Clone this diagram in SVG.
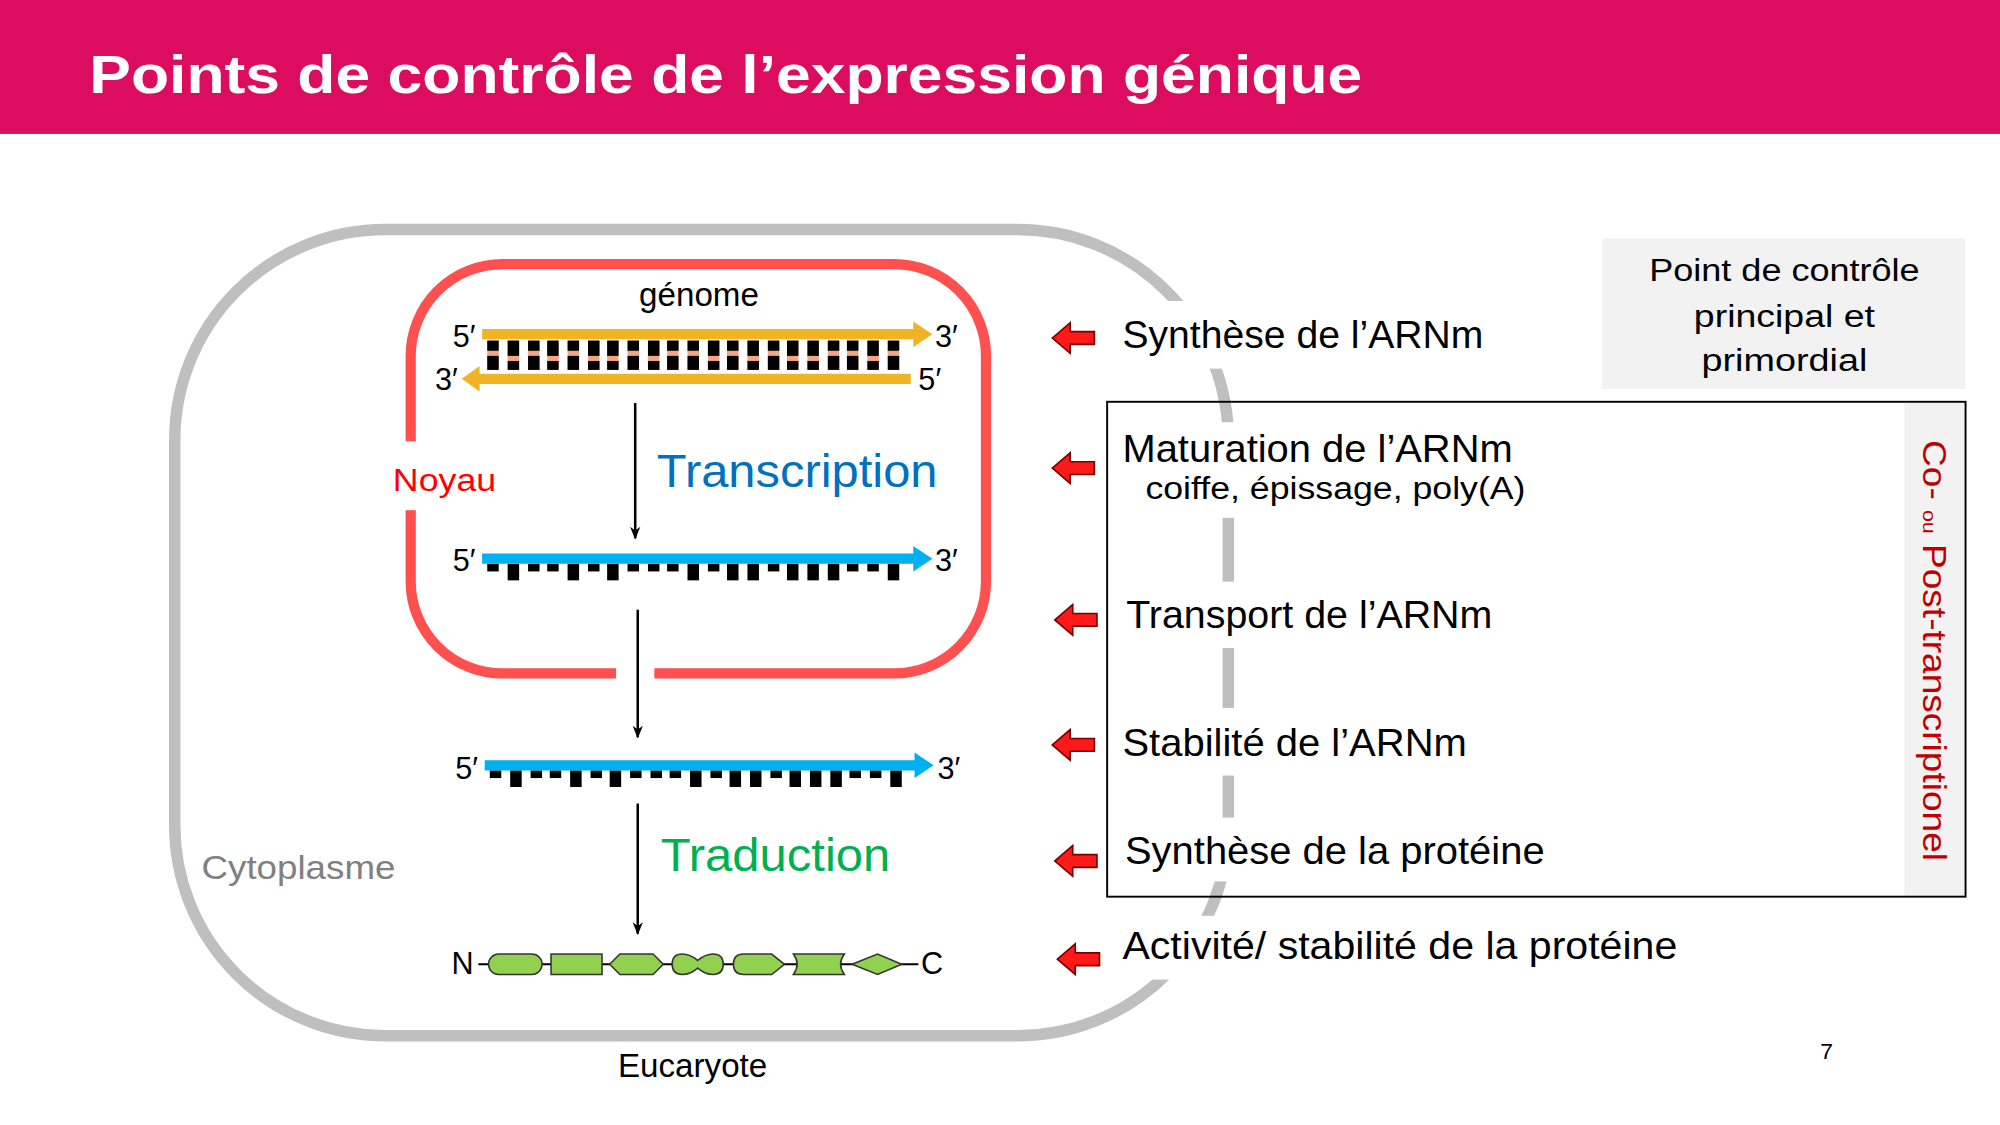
<svg xmlns="http://www.w3.org/2000/svg" width="2000" height="1125" viewBox="0 0 2000 1125">
<style>
.t{font-family:"Liberation Sans",Arial,sans-serif}
.lbl{font-family:"Liberation Sans",Arial,sans-serif;font-size:30px;fill:#000}
.pr{font-family:"Liberation Sans",Arial,sans-serif;font-size:25px;fill:#000}
.blk{fill:#000}
.pk{fill:#F4A582}
.prot{fill:#92D050;stroke:#333;stroke-width:1.2}
.ax{stroke:#000;stroke-width:2;fill:none}
.wb{fill:#fff}
</style>
<defs>
<marker id="ah" markerWidth="12" markerHeight="12" refX="9" refY="5" orient="auto" markerUnits="userSpaceOnUse"><path d="M0,1 L10,5 L0,9 L3,5 Z" fill="#000"/></marker>
<path id="ra" d="M0,0 L14,-12 L14,-5 L33,-5 L33,5 L14,5 L14,12 Z" fill="#FF1A1A" stroke="#7a0000" stroke-width="1.3"/>
</defs>
<rect width="2000" height="1125" fill="#fff"/>
<g transform="scale(1.27551)">
<rect x="0" y="0" width="1568" height="105" fill="#DC0C5F"/>
<text class="t" x="70" y="73" font-size="42" font-weight="bold" fill="#fff" textLength="998" lengthAdjust="spacingAndGlyphs">Points de contrôle de l’expression génique</text>

<g id="cytoplasme">
<rect x="137" y="180" width="826" height="632" rx="165" fill="none" stroke="#BFBFBF" stroke-width="9"/>
<text class="t" x="158" y="689" font-size="26" fill="#808080" textLength="152" lengthAdjust="spacingAndGlyphs">Cytoplasme</text>
<text class="t" x="543" y="844" font-size="26" fill="#000" text-anchor="middle">Eucaryote</text>
</g>

<g id="noyau">
<rect x="322" y="207" width="451" height="321" rx="72" fill="none" stroke="#FF5050" stroke-width="8"/>
<rect x="483" y="518" width="30" height="16" class="wb"/>
<rect x="300" y="346" width="92" height="54" class="wb"/>
<text class="t" x="308" y="385" font-size="25" fill="#FF0000" textLength="81" lengthAdjust="spacingAndGlyphs">Noyau</text>
<text class="t" x="548" y="240" font-size="26" fill="#000" text-anchor="middle">génome</text>
</g>

<g id="adn">
<g class="pk">
<rect x="382" y="267" width="9" height="23"/><rect x="398" y="267" width="9" height="23"/><rect x="414" y="267" width="9" height="23"/><rect x="429" y="267" width="9" height="23"/><rect x="445" y="267" width="9" height="23"/><rect x="461" y="267" width="9" height="23"/><rect x="476" y="267" width="9" height="23"/><rect x="492" y="267" width="9" height="23"/><rect x="508" y="267" width="9" height="23"/><rect x="523" y="267" width="9" height="23"/><rect x="539" y="267" width="9" height="23"/><rect x="555" y="267" width="9" height="23"/><rect x="570" y="267" width="9" height="23"/><rect x="586" y="267" width="9" height="23"/><rect x="602" y="267" width="9" height="23"/><rect x="617" y="267" width="9" height="23"/><rect x="633" y="267" width="9" height="23"/><rect x="649" y="267" width="9" height="23"/><rect x="664" y="267" width="9" height="23"/><rect x="680" y="267" width="9" height="23"/><rect x="696" y="267" width="9" height="23"/>
</g>
<g class="blk">
<rect x="382" y="267" width="9" height="8"/><rect x="382" y="279" width="9" height="11"/>
<rect x="398" y="267" width="9" height="12"/><rect x="398" y="283" width="9" height="7"/>
<rect x="414" y="267" width="9" height="8"/><rect x="414" y="279" width="9" height="11"/>
<rect x="429" y="267" width="9" height="12"/><rect x="429" y="283" width="9" height="7"/>
<rect x="445" y="267" width="9" height="8"/><rect x="445" y="279" width="9" height="11"/>
<rect x="461" y="267" width="9" height="12"/><rect x="461" y="283" width="9" height="7"/>
<rect x="476" y="267" width="9" height="12"/><rect x="476" y="283" width="9" height="7"/>
<rect x="492" y="267" width="9" height="8"/><rect x="492" y="279" width="9" height="11"/>
<rect x="508" y="267" width="9" height="12"/><rect x="508" y="283" width="9" height="7"/>
<rect x="523" y="267" width="9" height="8"/><rect x="523" y="279" width="9" height="11"/>
<rect x="539" y="267" width="9" height="8"/><rect x="539" y="279" width="9" height="11"/>
<rect x="555" y="267" width="9" height="12"/><rect x="555" y="283" width="9" height="7"/>
<rect x="570" y="267" width="9" height="8"/><rect x="570" y="279" width="9" height="11"/>
<rect x="586" y="267" width="9" height="12"/><rect x="586" y="283" width="9" height="7"/>
<rect x="602" y="267" width="9" height="8"/><rect x="602" y="279" width="9" height="11"/>
<rect x="617" y="267" width="9" height="12"/><rect x="617" y="283" width="9" height="7"/>
<rect x="633" y="267" width="9" height="12"/><rect x="633" y="283" width="9" height="7"/>
<rect x="649" y="267" width="9" height="8"/><rect x="649" y="279" width="9" height="11"/>
<rect x="664" y="267" width="9" height="8"/><rect x="664" y="279" width="9" height="11"/>
<rect x="680" y="267" width="9" height="12"/><rect x="680" y="283" width="9" height="7"/>
<rect x="696" y="267" width="9" height="8"/><rect x="696" y="279" width="9" height="11"/>
</g>
<path d="M378,258 L716,258 L716,252 L731,262 L716,272 L716,266 L378,266 Z" fill="#F0B323"/>
<path d="M714,293 L376,293 L376,287 L362,297 L376,307 L376,301 L714,301 Z" fill="#F0B323"/>
<text class="t" x="355" y="272" font-size="24">5′</text>
<text class="t" x="733" y="272" font-size="24">3′</text>
<text class="t" x="341" y="306" font-size="24">3′</text>
<text class="t" x="720" y="306" font-size="24">5′</text>
</g>

<g id="arnm1">
<g class="blk">
<rect x="382" y="442" width="9" height="6"/><rect x="398" y="442" width="9" height="13"/><rect x="414" y="442" width="9" height="6"/><rect x="429" y="442" width="9" height="6"/><rect x="445" y="442" width="9" height="13"/><rect x="461" y="442" width="9" height="6"/><rect x="476" y="442" width="9" height="13"/><rect x="492" y="442" width="9" height="6"/><rect x="508" y="442" width="9" height="6"/><rect x="523" y="442" width="9" height="6"/><rect x="539" y="442" width="9" height="13"/><rect x="555" y="442" width="9" height="6"/><rect x="570" y="442" width="9" height="13"/><rect x="586" y="442" width="9" height="13"/><rect x="602" y="442" width="9" height="6"/><rect x="617" y="442" width="9" height="13"/><rect x="633" y="442" width="9" height="13"/><rect x="649" y="442" width="9" height="13"/><rect x="664" y="442" width="9" height="6"/><rect x="680" y="442" width="9" height="6"/><rect x="696" y="442" width="9" height="13"/>
</g>
<path d="M378,434 L716,434 L716,428 L731,438 L716,448 L716,442 L378,442 Z" fill="#00B0F0"/>
<text class="t" x="355" y="448" font-size="24">5′</text>
<text class="t" x="733" y="448" font-size="24">3′</text>
</g>

<g id="arnm2">
<g class="blk">
<rect x="384" y="604" width="9" height="6"/><rect x="400" y="604" width="9" height="13"/><rect x="416" y="604" width="9" height="6"/><rect x="431" y="604" width="9" height="6"/><rect x="447" y="604" width="9" height="13"/><rect x="463" y="604" width="9" height="6"/><rect x="478" y="604" width="9" height="13"/><rect x="494" y="604" width="9" height="6"/><rect x="510" y="604" width="9" height="6"/><rect x="525" y="604" width="9" height="6"/><rect x="541" y="604" width="9" height="13"/><rect x="557" y="604" width="9" height="6"/><rect x="572" y="604" width="9" height="13"/><rect x="588" y="604" width="9" height="13"/><rect x="604" y="604" width="9" height="6"/><rect x="619" y="604" width="9" height="13"/><rect x="635" y="604" width="9" height="13"/><rect x="651" y="604" width="9" height="13"/><rect x="666" y="604" width="9" height="6"/><rect x="682" y="604" width="9" height="6"/><rect x="698" y="604" width="9" height="13"/>
</g>
<path d="M380,596 L717,596 L717,590 L732,600 L717,610 L717,604 L380,604 Z" fill="#00B0F0"/>
<text class="t" x="357" y="611" font-size="24">5′</text>
<text class="t" x="735" y="611" font-size="24">3′</text>
</g>

<g id="proteine">
<line x1="375" y1="756" x2="720" y2="756" stroke="#000" stroke-width="1.5"/>
<text class="t" x="354" y="764" font-size="24">N</text>
<text class="t" x="722" y="764" font-size="24">C</text>
<rect class="prot" x="383" y="748" width="42" height="16" rx="8"/>
<rect class="prot" x="432" y="748" width="40" height="16"/>
<path class="prot" d="M478,756 L486,748 L512,748 L520,756 L512,764 L486,764 Z"/>
<path class="prot" d="M535,748 Q541,748 547,753 Q553,748 559,748 Q567,748 567,756 Q567,764 559,764 Q553,764 547,759 Q541,764 535,764 Q527,764 527,756 Q527,748 535,748 Z"/>
<path class="prot" d="M583,748 L605,748 L615,756 L605,764 L583,764 Q575,764 575,756 Q575,748 583,748 Z"/>
<path class="prot" d="M622,748 L662,748 Q656,756 662,764 L622,764 Q628,756 622,748 Z"/>
<path class="prot" d="M668,756 L688,748 L707,756 L688,764 Z"/>
</g>

<g id="processus">
<text class="t" x="515" y="382" font-size="36" fill="#0070C0" textLength="220" lengthAdjust="spacingAndGlyphs">Transcription</text>
<text class="t" x="518" y="683" font-size="36" fill="#00B050" textLength="180" lengthAdjust="spacingAndGlyphs">Traduction</text>
</g>

<g id="connecteurs">
<line class="ax" x1="498" y1="316" x2="498" y2="422" marker-end="url(#ah)"/>
<line class="ax" x1="500" y1="478" x2="500" y2="578" marker-end="url(#ah)"/>
<line class="ax" x1="500" y1="630" x2="500" y2="732" marker-end="url(#ah)"/>
</g>

<g id="masques">
<rect x="870" y="236" width="300" height="53" class="wb"/>
<rect x="872" y="331" width="330" height="75" class="wb"/>
<rect x="872" y="456" width="300" height="52" class="wb"/>
<rect x="872" y="555" width="280" height="53" class="wb"/>
<rect x="872" y="641" width="340" height="50" class="wb"/>
<rect x="872" y="718" width="445" height="50" class="wb"/>
</g>

<g id="primordial">
<rect x="1256" y="187" width="285" height="118" fill="#F2F2F2"/>
<text class="pr" x="1399" y="220" text-anchor="middle" textLength="212" lengthAdjust="spacingAndGlyphs">Point de contrôle</text>
<text class="pr" x="1399" y="256" text-anchor="middle" textLength="142" lengthAdjust="spacingAndGlyphs">principal et</text>
<text class="pr" x="1399" y="291" text-anchor="middle" textLength="130" lengthAdjust="spacingAndGlyphs">primordial</text>
</g>

<g id="post">
<rect x="1493" y="316" width="48" height="387" fill="#F2F2F2"/>
<rect x="868" y="315" width="673" height="388" fill="none" stroke="#000" stroke-width="1.5"/>
<text class="t" transform="translate(1508,345) rotate(90)" font-size="26" fill="#C00000" textLength="330" lengthAdjust="spacingAndGlyphs">Co- <tspan font-size="15">ou</tspan> Post-transcriptionel</text>
</g>

<g id="etapes">
<use href="#ra" x="825" y="265"/>
<use href="#ra" x="825" y="367"/>
<use href="#ra" x="827" y="486"/>
<use href="#ra" x="825" y="584"/>
<use href="#ra" x="827" y="675"/>
<use href="#ra" x="829" y="752"/>
<text class="lbl" x="880" y="273" textLength="283" lengthAdjust="spacingAndGlyphs">Synthèse de l’ARNm</text>
<text class="lbl" x="880" y="362" textLength="306" lengthAdjust="spacingAndGlyphs">Maturation de l’ARNm</text>
<text class="t" x="898" y="391" font-size="25" textLength="298" lengthAdjust="spacingAndGlyphs">coiffe, épissage, poly(A)</text>
<text class="lbl" x="883" y="492" textLength="287" lengthAdjust="spacingAndGlyphs">Transport de l’ARNm</text>
<text class="lbl" x="880" y="593" textLength="270" lengthAdjust="spacingAndGlyphs">Stabilité de l’ARNm</text>
<text class="lbl" x="882" y="677" textLength="329" lengthAdjust="spacingAndGlyphs">Synthèse de la protéine</text>
<text class="lbl" x="880" y="752" textLength="435" lengthAdjust="spacingAndGlyphs">Activité/ stabilité de la protéine</text>
</g>
<text class="t" x="1427" y="830" font-size="18">7</text>
</g>
</svg>
